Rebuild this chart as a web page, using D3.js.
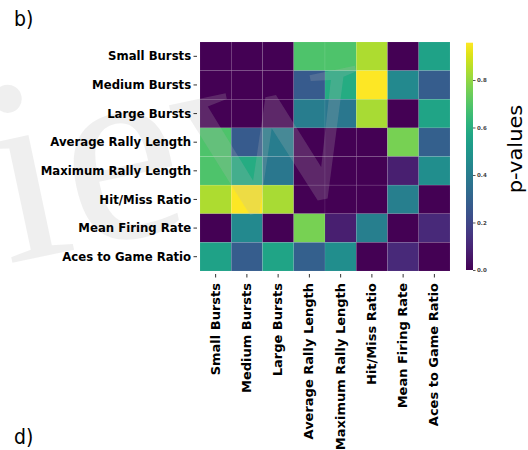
<!DOCTYPE html>
<html><head><meta charset="utf-8">
<script src="https://cdn.jsdelivr.net/npm/d3@7"></script>
<style>body{margin:0;background:#fff}svg{display:block}</style>
</head><body>
<svg id="c" width="528" height="450"></svg>
<script>
const rowLabels = ["Small Bursts","Medium Bursts","Large Bursts","Average Rally Length","Maximum Rally Length","Hit/Miss Ratio","Mean Firing Rate","Aces to Game Ratio"];
const colLabels = rowLabels.slice();
const pValues = [
  [0.00,0.00,0.00,0.69,0.69,0.84,0.00,0.55],
  [0.00,0.00,0.00,0.27,0.59,0.957,0.45,0.28],
  [0.00,0.00,0.00,0.40,0.38,0.83,0.00,0.56],
  [0.69,0.27,0.40,0.00,0.00,0.00,0.76,0.29],
  [0.69,0.59,0.38,0.00,0.00,0.00,0.08,0.47],
  [0.84,0.957,0.83,0.00,0.00,0.00,0.41,0.00],
  [0.00,0.45,0.00,0.76,0.08,0.41,0.00,0.11],
  [0.55,0.28,0.56,0.29,0.47,0.00,0.11,0.00]
];
const cbTicks = [0.0,0.2,0.4,0.6,0.8];
const cbMax = 0.957;

const sx = 0.9; // horizontal squeeze of the original figure
const svg = d3.select("#c");
const mL=200, mR=450, mT=42, mB=271;
const x = d3.scaleBand().domain(colLabels).range([mL,mR]);
const y = d3.scaleBand().domain(rowLabels).range([mT,mB]);
const color = d3.scaleSequential(d3.interpolateViridis).domain([0,cbMax]);

const cells = [];
pValues.forEach((row,i)=>row.forEach((v,j)=>cells.push({r:rowLabels[i],c:colLabels[j],v})));
svg.append("g").selectAll("rect").data(cells).join("rect")
  .attr("x",d=>x(d.c)).attr("y",d=>y(d.r))
  .attr("width",x.bandwidth()).attr("height",y.bandwidth())
  .attr("fill",d=>color(d.v))
  .attr("stroke","rgba(255,255,255,0.12)").attr("stroke-width",0.6);

// watermark (only the visible part of it)
svg.append("g").attr("transform","translate(7,264) rotate(-12)")
  .append("text").attr("x",0).attr("y",0)
  .attr("font-family","Liberation Serif").attr("font-size",265)
  .attr("fill","#b8b8b8").attr("fill-opacity",0.22).text("iew");

// y axis
const yAxis = svg.append("g").attr("transform",`translate(${mL-3},0)`)
  .call(d3.axisLeft(y).tickSize(3.5).tickPadding(3));
yAxis.select(".domain").remove();
yAxis.selectAll("line").attr("stroke","#333");
yAxis.selectAll("text").attr("font-family","DejaVu Sans").attr("font-weight","bold").attr("font-size",13).attr("fill","#000")
  .attr("transform",`scale(${sx},1)`);

// x axis
const xAxis = svg.append("g").attr("transform",`translate(0,${mB+3})`)
  .call(d3.axisBottom(x).tickSize(3.5).tickPadding(3));
xAxis.select(".domain").remove();
xAxis.selectAll("line").attr("stroke","#333");
xAxis.selectAll("text").attr("font-family","DejaVu Sans").attr("font-weight","bold").attr("font-size",13).attr("fill","#000")
  .attr("transform",`rotate(-90) scale(1,${sx})`).attr("text-anchor","end").attr("dy","0.35em").attr("x",-9).attr("y",0);

// colorbar
const cbX=466, cbW=7, cbTop=42.7, cbBot=270;
const cy = d3.scaleLinear().domain([0,cbMax]).range([cbBot,cbTop]);
const defs = svg.append("defs");
const grad = defs.append("linearGradient").attr("id","vg").attr("x1",0).attr("y1",1).attr("x2",0).attr("y2",0);
d3.range(0,1.0001,0.05).forEach(t=>grad.append("stop").attr("offset",t).attr("stop-color",d3.interpolateViridis(t)));
svg.append("rect").attr("x",cbX).attr("y",cbTop).attr("width",cbW).attr("height",cbBot-cbTop).attr("fill","url(#vg)");
const cbAxis = svg.append("g").attr("transform",`translate(${cbX+cbW},0)`)
  .call(d3.axisRight(cy).tickValues(cbTicks).tickFormat(d3.format(".1f")).tickSize(2.5).tickPadding(1.5));
cbAxis.select(".domain").remove();
cbAxis.selectAll("line").attr("stroke","#555");
cbAxis.selectAll("text").attr("font-family","DejaVu Sans").attr("font-weight","bold").attr("font-size",5.5).attr("fill","#444");

svg.append("text").attr("transform",`translate(522,149) rotate(-90) scale(1,${sx})`).attr("text-anchor","middle")
  .attr("font-family","DejaVu Sans").attr("font-size",21).attr("fill","#000").text("p-values");

svg.append("text").attr("transform",`translate(14,26) scale(${sx},1)`).attr("font-family","DejaVu Sans").attr("font-size",21).attr("fill","#000").text("b)");
svg.append("text").attr("transform",`translate(14,444) scale(${sx},1)`).attr("font-family","DejaVu Sans").attr("font-size",21).attr("fill","#000").text("d)");
</script>
</body></html>
